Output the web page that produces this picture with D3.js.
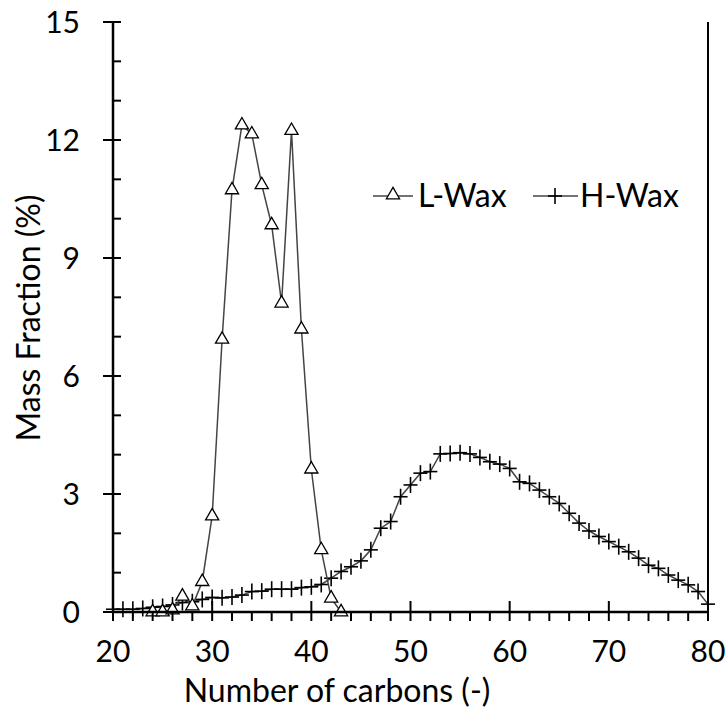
<!DOCTYPE html>
<html><head><meta charset="utf-8">
<script src="https://cdn.jsdelivr.net/npm/d3@7/dist/d3.min.js"></script>
<style>body{margin:0;background:#fff}svg{display:block}text{font-family:Lato,"Open Sans",sans-serif;fill:#000}</style>
</head><body>
<svg id="c" width="728" height="718"></svg>
<script>
const lwaxCarbons = [24,25,26,27,28,29,30,31,32,33,34,35,36,37,38,39,40,41,42,43];
const lwaxValues  = [0,0,0.05,0.4,0.15,0.77,2.44,6.93,10.73,12.38,12.15,10.86,9.84,7.85,12.24,7.19,3.63,1.58,0.35,0];
const hwaxCarbons = d3.range(20,81);
const hwaxValues  = [0.07,0.07,0.07,0.09,0.12,0.14,0.18,0.24,0.26,0.32,0.37,0.36,0.38,0.43,0.52,0.53,0.58,0.58,0.58,0.62,0.64,0.70,0.86,1.03,1.15,1.30,1.58,2.13,2.30,2.93,3.23,3.53,3.57,4.02,4.03,4.05,4.02,3.93,3.82,3.76,3.65,3.31,3.27,3.10,2.93,2.76,2.51,2.26,2.06,1.92,1.79,1.66,1.53,1.37,1.19,1.11,0.94,0.81,0.69,0.52,0.2];
const xTicks = [20,30,40,50,60,70,80];
const yTicks = [0,3,6,9,12,15];
const seriesNames = ["L-Wax","H-Wax"];

const svg = d3.select("#c");
const x = d3.scaleLinear().domain([20,80]).range([113,708]);
const y = d3.scaleLinear().domain([0,15]).range([612,22]);

const line = d3.line().x(d=>x(d[0])).y(d=>y(d[1]));
const L = lwaxCarbons.map((c,i)=>[c,lwaxValues[i]]);
const H = hwaxCarbons.map((c,i)=>[c,hwaxValues[i]]);

const tri = d3.symbol().type(d3.symbolTriangle).size(75);
function cross(g){ g.append("line").attr("x1",-7).attr("x2",7).attr("y1",0).attr("y2",0);
  g.append("line").attr("x1",0).attr("x2",0).attr("y1",-8).attr("y2",8); }

// H-Wax
svg.append("path").attr("d",line(H)).attr("fill","none").attr("stroke","#444").attr("stroke-width",1.5);
svg.append("g").selectAll("g").data(H).join("g")
  .attr("transform",d=>`translate(${x(d[0])},${y(d[1])})`)
  .attr("stroke","#000").attr("stroke-width",1.6).each(function(){cross(d3.select(this));});
// L-Wax
svg.append("path").attr("d",line(L)).attr("fill","none").attr("stroke","#444").attr("stroke-width",1.5);
svg.append("g").selectAll("path").data(L).join("path")
  .attr("d",tri).attr("transform",d=>`translate(${x(d[0])},${y(d[1])})`)
  .attr("fill","#fff").attr("stroke","#000").attr("stroke-width",1.3);

// axes
const ax = svg.append("g").attr("stroke","#000");
ax.append("line").attr("x1",x(20)).attr("x2",x(20)).attr("y1",y(15)).attr("y2",y(0)+1).attr("stroke-width",2.5);
ax.append("line").attr("x1",x(20)-1).attr("x2",x(80)+1).attr("y1",y(0)).attr("y2",y(0)).attr("stroke-width",2.5);
ax.append("line").attr("x1",x(80)).attr("x2",x(80)).attr("y1",y(15)).attr("y2",y(0)).attr("stroke-width",2);
// y ticks
d3.range(0,16).forEach(v=>{
  const major = v%3===0;
  ax.append("line").attr("x1",major?x(20)-10:x(20)).attr("x2",x(20)+8).attr("y1",y(v)).attr("y2",y(v)).attr("stroke-width",2);
});
// x ticks
d3.range(20,81,2).forEach(v=>{
  const major = v%10===0;
  ax.append("line").attr("x1",x(v)).attr("x2",x(v)).attr("y1",major?y(0)-11:y(0)).attr("y2",y(0)+9).attr("stroke-width",2);
});
svg.append("g").selectAll("text").data(yTicks).join("text")
  .attr("x",80).attr("y",d=>y(d)+11).attr("text-anchor","end").attr("font-size",30).text(d=>d);
svg.append("g").selectAll("text").data(xTicks).join("text")
  .attr("x",d=>x(d)).attr("y",662).attr("text-anchor","middle").attr("font-size",30).text(d=>d);
svg.append("text").attr("x",337).attr("y",702).attr("text-anchor","middle").attr("font-size",32).text("Number of carbons (-)");
svg.append("text").attr("transform","translate(40,318) rotate(-90)").attr("text-anchor","middle").attr("font-size",32).text("Mass Fraction (%)");

// legend
const lg = svg.append("g");
lg.append("line").attr("x1",373).attr("x2",413).attr("y1",196).attr("y2",196).attr("stroke","#444").attr("stroke-width",1.5);
lg.append("path").attr("d",tri).attr("transform","translate(393,195)").attr("fill","#fff").attr("stroke","#000").attr("stroke-width",1.3);
lg.append("text").attr("x",418).attr("y",207).attr("font-size",32).text(seriesNames[0]);
lg.append("line").attr("x1",533).attr("x2",578).attr("y1",196).attr("y2",196).attr("stroke","#444").attr("stroke-width",1.5);
lg.append("g").attr("transform","translate(555,196)").attr("stroke","#000").attr("stroke-width",1.6).call(cross);
lg.append("text").attr("x",580).attr("y",207).attr("font-size",32).text(seriesNames[1]);
</script>
</body></html>
